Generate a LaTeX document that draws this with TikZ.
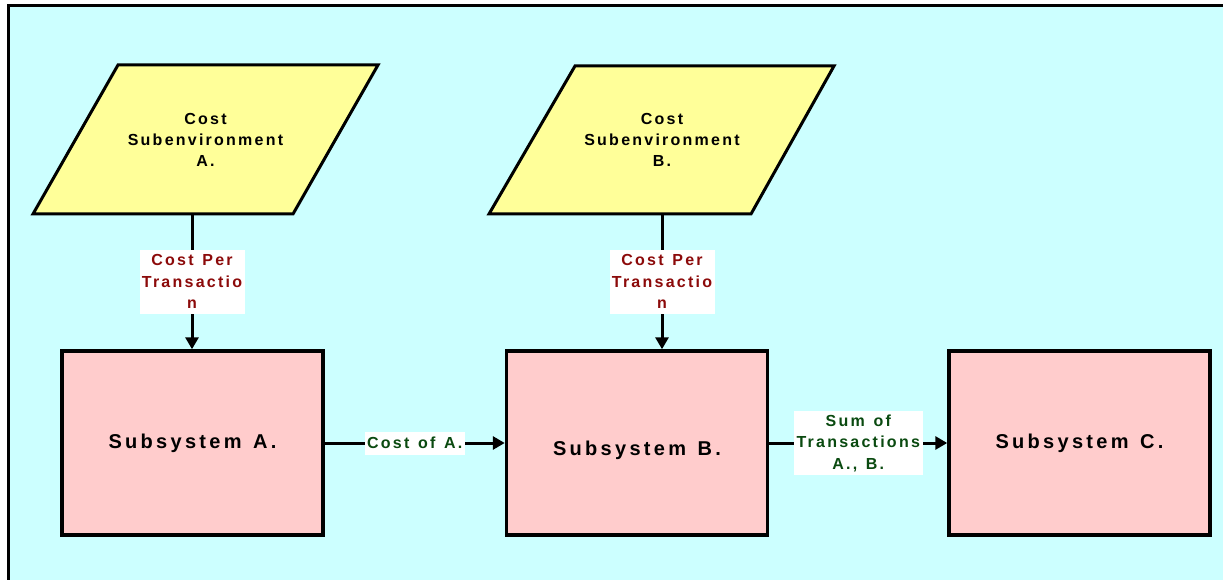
\documentclass[tikz,border=0pt]{standalone}
\usepackage{fontspec}
\usetikzlibrary{arrows.meta,calc}
\newfontfamily\diagfont[LetterSpace=14,WordSpace=1.3]{Liberation Sans}
\newfontfamily\sysfont[LetterSpace=16.5,WordSpace=1.3]{Liberation Sans}
\definecolor{bgcyan}{HTML}{CCFFFF}
\definecolor{envyellow}{HTML}{FFFF99}
\definecolor{syspink}{HTML}{FFCCCC}
\definecolor{flowred}{HTML}{8C0A0A}
\definecolor{flowgreen}{HTML}{0A4A10}
\tikzset{
  envshape/.style={draw=black, fill=envyellow, line width=3pt, line join=miter},
  envtext/.style={font=\diagfont\bfseries\fontsize{16}{21}\selectfont, align=center, text=black, inner sep=0pt},
  sysbox/.style={draw=black, fill=syspink, line width=3.5pt, minimum width=261pt, minimum height=184pt, inner sep=0pt},
  systext/.style={font=\sysfont\bfseries\fontsize{20}{24}\selectfont, text=black, inner sep=0pt},
  flow/.style={draw=black, line width=3pt, -{Triangle[length=12pt,width=13pt]}},
  costlabel/.style={fill=white, text=flowred, font=\diagfont\bfseries\fontsize{16}{21.5}\selectfont, align=center, inner sep=0pt, minimum width=105pt, minimum height=64pt},
  sumlabel/.style={fill=white, text=flowgreen, font=\diagfont\bfseries\fontsize{16}{21.5}\selectfont, align=center, inner sep=0pt},
}
\begin{document}
\begin{tikzpicture}[x=1pt,y=-1pt]
\useasboundingbox (0,0) rectangle (1223,580);
% page background and frame
\fill[bgcyan] (8,6) rectangle (1223,580);
\draw[line width=3pt] (8,580) -- (8,6) -- (1223,6);

% cost subenvironments (parallelograms)
\draw[envshape] (118,65) -- (378,65) -- (293,214) -- (33,214) -- cycle;
\node[envtext] (envA) at (205.5,140) {Cost\\Subenvironment\\A.};
\coordinate (envAout) at (192,214);

\draw[envshape] (575,66) -- (834,66) -- (751,214) -- (489,214) -- cycle;
\node[envtext] (envB) at (662,140) {Cost\\Subenvironment\\B.};
\coordinate (envBout) at (662,214);

% subsystems
\node[sysbox] (sysA) at (192.5,443) {};
\node[systext] at (sysA.center) {Subsystem A.};
\node[sysbox] (sysB) at (637,443) {};
\node[systext] at ($(sysB.center)+(0,7)$) {Subsystem B.};
\node[sysbox] (sysC) at (1079.5,443) {};
\node[systext] at (sysC.center) {Subsystem C.};

% flows
\draw[flow] (envAout) -- (envAout |- sysA.north)
  node[costlabel, midway] {Cost Per\\Transactio\\n};
\draw[flow] (envBout) -- (envBout |- sysB.north)
  node[costlabel, midway] {Cost Per\\Transactio\\n};
\draw[flow] (sysA.east) -- (sysB.west)
  node[sumlabel, midway, minimum width=100pt, minimum height=23pt] {Cost of A.};
\draw[flow] (sysB.east) -- (sysC.west)
  node[sumlabel, midway, minimum width=129pt, minimum height=64pt] {Sum of\\Transactions\\A., B.};
\end{tikzpicture}
\end{document}
